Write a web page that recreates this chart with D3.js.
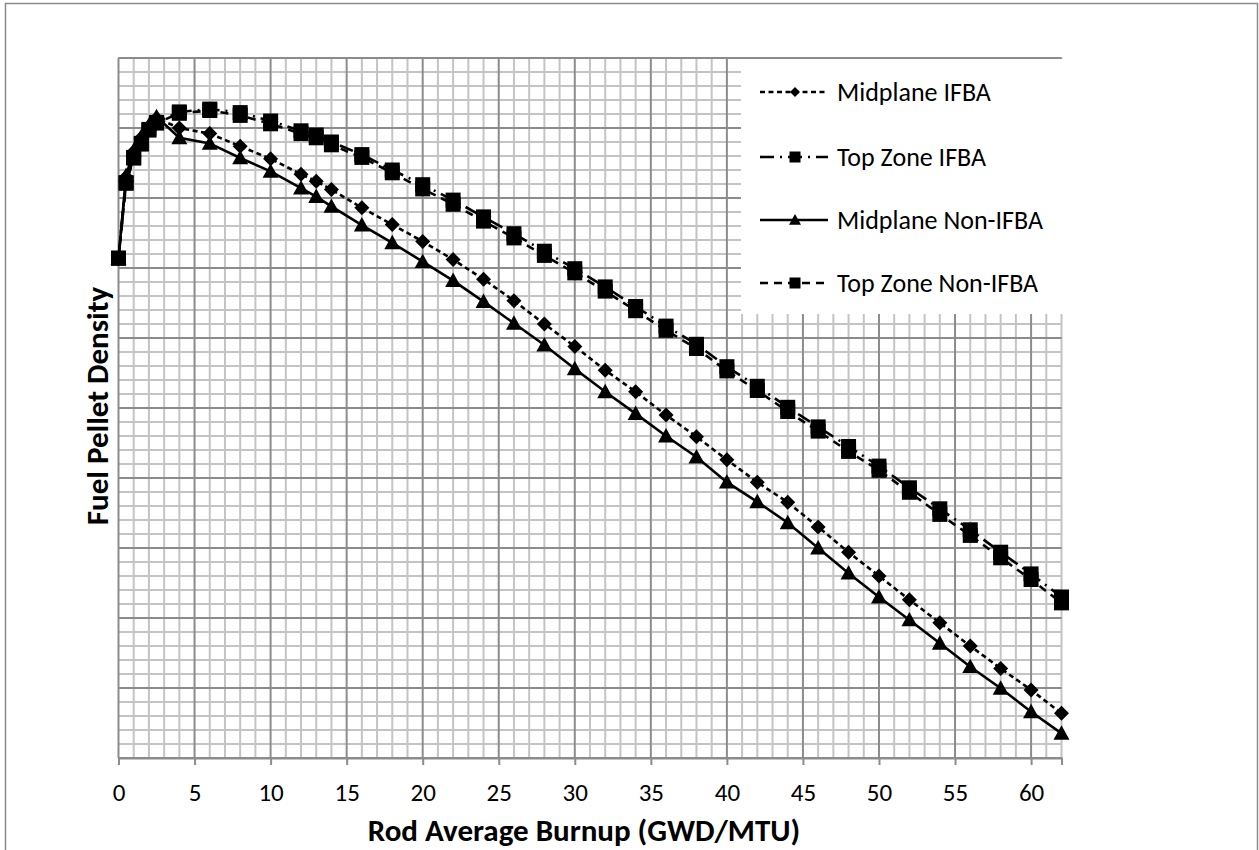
<!DOCTYPE html>
<html>
<head>
<meta charset="utf-8">
<script src="https://cdn.jsdelivr.net/npm/d3@7"></script>
<style>
  html, body { margin: 0; padding: 0; background: #fff; }
  svg { display: block; }
  text { font-family: Carlito, Calibri, Lato, "Open Sans", sans-serif; fill: #000; }
</style>
</head>
<body>
<svg id="chart" width="1259" height="850"></svg>
<script>
// ---- Data (y in grid units, one minor division = 1) ----
const burnup = [0, 0.5, 1, 1.5, 2, 2.5, 4, 6, 8, 10, 12, 13, 14, 16, 18, 20, 22, 24, 26, 28, 30,
                32, 34, 36, 38, 40, 42, 44, 46, 48, 50, 52, 54, 56, 58, 60, 62];

const midplaneIFBA = [35.7, 41.5, 43.3, 44.3, 45.1, 45.7, 45.0, 44.6, 43.7, 42.8, 41.7, 41.2, 40.6,
                      39.3, 38.1, 36.9, 35.6, 34.2, 32.66, 31.0, 29.4, 27.7, 26.16, 24.5, 22.95,
                      21.3, 19.7, 18.26, 16.5, 14.7, 13.0, 11.3, 9.66, 8.0, 6.4, 4.86, 3.19];

const topZoneIFBA = [35.7, 41.1, 42.9, 43.9, 44.9, 45.4, 46.15, 46.35, 46.1, 45.5, 44.8, 44.5, 44.0,
                     43.1, 42.0, 40.95, 39.85, 38.65, 37.45, 36.2, 34.95, 33.65, 32.25, 30.85, 29.55,
                     27.95, 26.55, 25.05, 23.65, 22.25, 20.85, 19.3, 17.8, 16.3, 14.7, 13.15, 11.5];

const midplaneNonIFBA = [35.7, 41.6, 43.4, 44.4, 45.2, 45.8, 44.3, 43.9, 42.86, 41.9, 40.7, 40.1, 39.4,
                         38.07, 36.8, 35.45, 34.1, 32.6, 31.05, 29.5, 27.8, 26.16, 24.6, 23.0, 21.5,
                         19.7, 18.3, 16.8, 15.0, 13.2, 11.5, 9.86, 8.19, 6.52, 4.98, 3.3, 1.76];

const topZoneNonIFBA = [35.7, 41.05, 42.85, 43.85, 44.85, 45.35, 46.05, 46.25, 45.9, 45.3, 44.6, 44.3, 43.8,
                        42.9, 41.8, 40.65, 39.55, 38.35, 37.15, 35.9, 34.65, 33.35, 31.95, 30.55, 29.25,
                        27.65, 26.25, 24.75, 23.35, 21.9, 20.55, 18.98, 17.4, 15.9, 14.3, 12.75, 11.08];

const seriesNames = ["Midplane IFBA", "Top Zone IFBA", "Midplane Non-IFBA", "Top Zone Non-IFBA"];
const xTickLabels = [0, 5, 10, 15, 20, 25, 30, 35, 40, 45, 50, 55, 60];
const xTitle = "Rod Average Burnup (GWD/MTU)";
const yTitle = "Fuel Pellet Density";

// ---- Styles ----
const styles = [
  { values: midplaneIFBA,    dash: "5,3.5",     marker: "diamond",  size: 15, lsize: 10 },
  { values: topZoneIFBA,     dash: "14,6,2,6",  marker: "square",   size: 15, lsize: 11 },
  { values: midplaneNonIFBA, dash: null,        marker: "triangle", size: 16, lsize: 12 },
  { values: topZoneNonIFBA,  dash: "8,6",       marker: "square",   size: 15, lsize: 11 }
];

const svg = d3.select("#chart");

// outer chart border
svg.append("rect").attr("x", 5.5).attr("y", 3.5).attr("width", 1252).attr("height", 860)
  .attr("fill", "#fff").attr("stroke", "#8a8a8a").attr("stroke-width", 1.5);

const x = d3.scaleLinear().domain([0, 62]).range([118.5, 1061.5]);
const y = d3.scaleLinear().domain([0, 50]).range([758, 58]);

const grid = svg.append("g");
// minor grid
grid.selectAll("line.vmin").data(d3.range(0, 63).filter(d => d % 5 !== 0)).join("line")
  .attr("x1", d => x(d)).attr("x2", d => x(d)).attr("y1", y(0)).attr("y2", y(50))
  .attr("stroke", "#c4c4c4").attr("stroke-width", 2);
grid.selectAll("line.hmin").data(d3.range(0, 51).filter(d => d % 5 !== 0)).join("line")
  .attr("x1", x(0)).attr("x2", x(62)).attr("y1", d => y(d)).attr("y2", d => y(d))
  .attr("stroke", "#c4c4c4").attr("stroke-width", 2);
// major grid
grid.selectAll("line.vmaj").data(d3.range(0, 63, 5)).join("line")
  .attr("x1", d => x(d)).attr("x2", d => x(d)).attr("y1", y(0)).attr("y2", y(50))
  .attr("stroke", "#8c8c8c").attr("stroke-width", 2);
grid.selectAll("line.hmaj").data(d3.range(0, 51, 5)).join("line")
  .attr("x1", x(0)).attr("x2", x(62)).attr("y1", d => y(d)).attr("y2", d => y(d))
  .attr("stroke", "#8c8c8c").attr("stroke-width", 2);

// x axis
const xAxis = svg.append("g").attr("transform", `translate(0,${y(0)})`)
  .call(d3.axisBottom(x).tickValues(xTickLabels).tickSize(7).tickFormat(d3.format("d")));
xAxis.select(".domain").attr("stroke", "#8c8c8c").attr("stroke-width", 2);
xAxis.selectAll(".tick line").attr("stroke", "#8c8c8c").attr("stroke-width", 2);
xAxis.selectAll(".tick text").attr("y", 43).attr("dy", null)
  .style("font-size", "25px").style("font-family", "Carlito, Calibri, Lato, sans-serif");

// series
const line = d3.line().x((d, i) => x(burnup[i])).y(d => y(d));
function markerPath(type, s) {
  const h = s / 2;
  if (type === "square") return `M${-h},${-h}H${h}V${h}H${-h}Z`;
  if (type === "diamond") return `M0,${-h}L${h},0L0,${h}L${-h},0Z`;
  // triangle
  return `M0,${-h * 1.0}L${h},${h * 0.8}L${-h},${h * 0.8}Z`;
}
styles.forEach(st => {
  const g = svg.append("g");
  g.append("path").datum(st.values).attr("d", line)
    .attr("fill", "none").attr("stroke", "#000").attr("stroke-width", 2.6)
    .attr("stroke-dasharray", st.dash);
  g.selectAll("path.m").data(st.values).join("path")
    .attr("transform", (d, i) => `translate(${x(burnup[i])},${y(d)})`)
    .attr("d", markerPath(st.marker, st.size)).attr("fill", "#000");
});

// legend
const lg = svg.append("g");
lg.append("rect").attr("x", 741).attr("y", 59).attr("width", 322).attr("height", 255).attr("fill", "#fff");
const legendY = [92, 157, 220, 283];
styles.forEach((st, i) => {
  const ly = legendY[i];
  lg.append("line").attr("x1", 760).attr("x2", 828).attr("y1", ly).attr("y2", ly)
    .attr("stroke", "#000").attr("stroke-width", 2.6).attr("stroke-dasharray", st.dash);
  lg.append("path").attr("transform", `translate(795,${ly})`).attr("d", markerPath(st.marker, st.lsize)).attr("fill", "#000");
  lg.append("text").attr("x", 837).attr("y", ly).attr("dy", "0.35em")
    .style("font-size", "26px").text(seriesNames[i]);
});
// plot top border
svg.append("line").attr("x1", x(0)).attr("x2", x(62)).attr("y1", y(50)).attr("y2", y(50))
  .attr("stroke", "#8c8c8c").attr("stroke-width", 2);

// axis titles
svg.append("text").attr("x", 584).attr("y", 830).attr("dy", "0.35em").attr("text-anchor", "middle")
  .style("font-size", "31px").style("font-weight", "bold").text(xTitle);
svg.append("text").attr("transform", "translate(97,406) rotate(-90)").attr("dy", "0.35em")
  .attr("text-anchor", "middle").style("font-size", "31px").style("font-weight", "bold").text(yTitle);
</script>
</body>
</html>
